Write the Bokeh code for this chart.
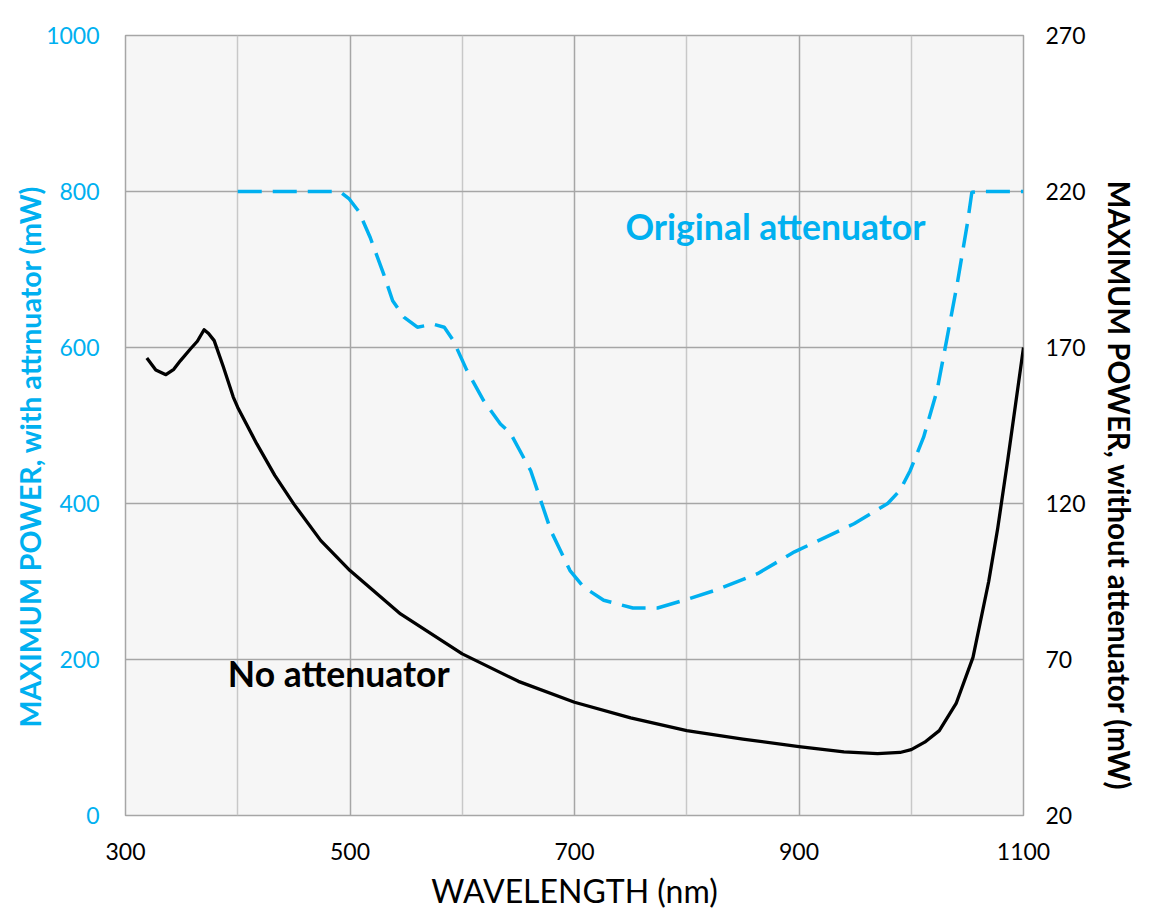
from bokeh.plotting import figure
from bokeh.models import Range1d, LinearAxis, FixedTicker, Label, Title
from bokeh.embed import file_html
from bokeh.resources import INLINE

# ---- data ----
# black curve: no attenuator (right axis, mW)
noatt_nm = [319, 327, 336, 343, 349, 358, 364, 370, 374, 379, 387, 396, 400, 417, 433,
            450, 474, 500, 545, 600, 650, 700, 750, 800, 850, 900, 940, 970, 990,
            1000, 1012, 1025, 1040, 1055, 1069, 1077, 1086, 1093, 1100]
noatt_mw = [166.6, 162.8, 161.3, 163.0, 165.8, 169.6, 172.0, 175.7, 174.5, 172.2, 164.0, 154.1,
            150.8, 139.1, 129.0, 119.8, 108.1, 98.5, 84.6, 71.8, 63.0, 56.3, 51.3, 47.2,
            44.5, 42.1, 40.4, 39.8, 40.2, 41.1, 43.5, 47.2, 55.9, 70.7, 95.0, 112.0, 134.0,
            152.0, 170.0]

# blue dashed: original attenuator (left axis, mW)
orig_nm = [400, 450, 491, 499, 508, 518, 530, 538, 548, 560, 574, 584, 592, 604, 619, 634,
           643, 661, 679, 696, 708, 726, 752, 774, 800, 826, 863, 896, 949, 979, 990,
           999, 1011, 1023, 1032, 1041, 1050, 1054, 1060, 1100]
orig_mw = [800, 800, 800, 791, 774, 741, 694, 660, 639, 626, 630, 626, 609, 571, 532, 502,
           490, 442, 365, 314, 293, 276, 266, 266, 277, 289, 310, 338, 374, 400, 417,
           442, 485, 545, 613, 682, 759, 799, 800, 800]

x_ticks = [300, 500, 700, 900, 1100]
x_minor = [400, 600, 800, 1000]
left_ticks = [0, 200, 400, 600, 800, 1000]
right_ticks = [20, 70, 120, 170, 220, 270]

x_title = "WAVELENGTH (nm)"
left_title = "MAXIMUM POWER, with attrnuator (mW)"
right_title = "MAXIMUM POWER, without attenuator (mW)"
label_orig = "Original attenuator"
label_none = "No attenuator"

BLUE = "#00B0F0"
FONT = "Lato"

p = figure(width=1152, height=914, x_range=Range1d(300, 1100), y_range=Range1d(0, 1000),
           output_backend="svg", toolbar_location=None,
           min_border_left=125, min_border_right=129, min_border_top=35, min_border_bottom=99)
p.extra_y_ranges = {"right": Range1d(20, 270)}

p.background_fill_color = "#f6f6f6"
p.border_fill_color = "white"
p.outline_line_color = "#a6a6a6"
p.outline_line_width = 1.5

# gridlines
p.xaxis.ticker = FixedTicker(ticks=x_ticks, minor_ticks=x_minor)
p.yaxis.ticker = FixedTicker(ticks=left_ticks)
p.xgrid.grid_line_color = "#a6a6a6"
p.xgrid.grid_line_width = 1.5
p.xgrid.minor_grid_line_color = "#c8c8c8"
p.xgrid.minor_grid_line_width = 1.5
p.ygrid.grid_line_color = "#a6a6a6"
p.ygrid.grid_line_width = 1.5

# axes
for ax in (p.xaxis[0], p.yaxis[0]):
    ax.axis_line_color = None
    ax.major_tick_line_color = None
    ax.minor_tick_line_color = None
    ax.major_label_text_font = FONT
    ax.major_label_text_font_size = "23px"

p.xaxis.axis_label = x_title
p.xaxis.axis_label_text_font = FONT
p.xaxis.axis_label_text_font_style = "normal"
p.xaxis.axis_label_text_font_size = "32px"
p.xaxis.axis_label_text_color = "black"
p.xaxis.major_label_text_color = "black"
p.xaxis.major_label_standoff = 21
p.xaxis.axis_label_standoff = 8

p.yaxis.major_label_text_color = BLUE
p.yaxis.major_label_standoff = 20
p.yaxis.axis_label_standoff = 0

rax = LinearAxis(y_range_name="right", ticker=FixedTicker(ticks=right_ticks))
rax.axis_line_color = None
rax.major_tick_line_color = None
rax.minor_tick_line_color = None
rax.major_label_text_font = FONT
rax.major_label_text_font_size = "23px"
rax.major_label_text_color = "black"
rax.major_label_standoff = 16
rax.axis_label_standoff = 0
p.add_layout(rax, "right")

# vertical axis titles (slightly off-centre, as in the original)
p.add_layout(Title(text=left_title, align="left", offset=88, standoff=-6,
                   text_font=FONT, text_font_size="28.5px", text_font_style="bold",
                   text_color=BLUE), "left")
p.add_layout(Title(text=right_title, align="left", offset=145, standoff=27,
                   text_font=FONT, text_font_size="29.5px", text_font_style="bold",
                   text_color="black"), "right")

# lines
p.line(orig_nm, orig_mw, line_color=BLUE, line_width=3.5, line_dash="24 11")
p.line(noatt_nm, noatt_mw, line_color="black", line_width=3.3, y_range_name="right",
       line_join="round")

# annotations
p.add_layout(Label(x=879, y=755, text=label_orig, text_font=FONT,
                   text_font_size="35.5px", text_font_style="bold", text_color=BLUE,
                   text_align="center", text_baseline="middle"))
p.add_layout(Label(x=490, y=182, text=label_none, text_font=FONT,
                   text_font_size="35.5px", text_font_style="bold", text_color="black",
                   text_align="center", text_baseline="middle"))

open("out.html", "w").write(file_html(p, INLINE))
